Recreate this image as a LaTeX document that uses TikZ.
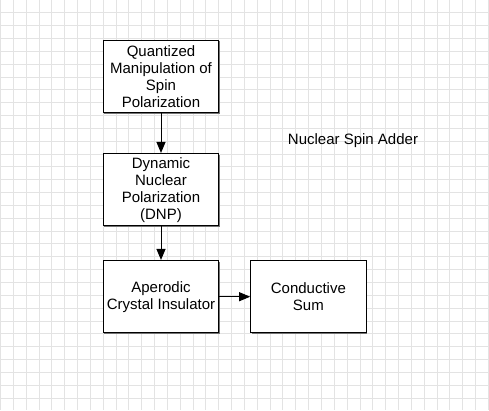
\documentclass[tikz,border=0pt]{standalone}
\usepackage{fontspec}
\setmainfont{Liberation Sans}
\usetikzlibrary{arrows.meta,shadows}
\begin{document}
\begin{tikzpicture}[x=1bp,y=-1bp,
  gridline/.style={draw=black!11, line width=1bp},
  procbox/.style={draw=black, line width=1bp, fill=white, minimum width=115.5bp, minimum height=72.5bp, inner sep=0pt, align=center, font=\fontsize{15bp}{17bp}\selectfont,
    drop shadow={shadow xshift=1.2bp, shadow yshift=-1.2bp, fill=black!55, opacity=1}},
  flow/.style={draw=black, line width=1bp, -{Triangle[length=11bp,width=9bp]}},
  titletext/.style={font=\fontsize{15bp}{17bp}\selectfont, inner sep=0pt}]
\useasboundingbox (0,0) rectangle (489,410);
\fill[white] (0,0) rectangle (489,410);
\foreach \i in {0,...,38} {\draw[gridline] ({0.5+\i*12.84},0) -- ++(0,410);}
\foreach \j in {1,...,31} {\draw[gridline] (0,{\j*12.84}) -- ++(489,0);}
\node[procbox] (qmsp) at (161,76.3) {Quantized\\Manipulation of\\Spin\\Polarization};
\node[procbox] (dnp) at (161,189.7) {Dynamic\\Nuclear\\Polarization\\(DNP)};
\node[procbox] (aci) at (161,296.7) {Aperodic\\Crystal Insulator};
\node[procbox] (cs) at (308.4,296.7) {Conductive\\Sum};
\node[titletext] (title) at (353,141) {Nuclear Spin Adder};
\draw[flow] (qmsp.south) -- (dnp.north);
\draw[flow] (dnp.south) -- (aci.north);
\draw[flow] (aci.east) -- (cs.west);
\end{tikzpicture}
\end{document}
